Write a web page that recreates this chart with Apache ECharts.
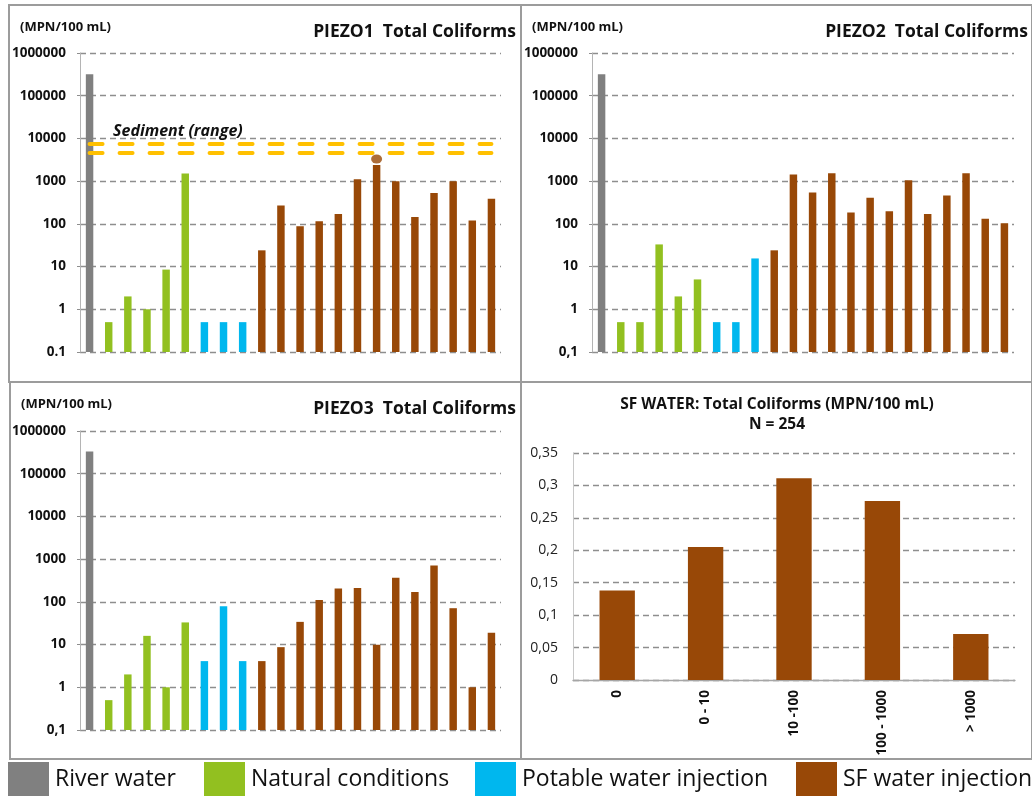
<!DOCTYPE html>
<html>
<head>
<meta charset="utf-8">
<script src="https://cdn.jsdelivr.net/npm/echarts@6/dist/echarts.min.js"></script>
<style>
  html, body { margin: 0; padding: 0; background: #ffffff; }
  #chart { width: 1032px; height: 796px; }
</style>
</head>
<body>
<div id="chart"></div>
<script>
// Total coliforms (MPN/100 mL) per sample, grouped by water origin
const piezo1River   = [320000];
const piezo1Natural = [0.5, 2, 1, 8.5, 1500];
const piezo1Potable = [0.5, 0.5, 0.5];
const piezo1SF      = [24, 270, 88, 115, 170, 1100, 2400, 1000, 145, 530, 1000, 120, 385];
const piezo1Peak    = [3300];          // marker above the 7th SF sample
const sedimentRange = [4500, 7500];    // sediment range band (MPN/100 mL)

const piezo2River   = [320000];
const piezo2Natural = [0.5, 0.5, 33, 2, 5];
const piezo2Potable = [0.5, 0.5, 15.5];
const piezo2SF      = [24, 1430, 540, 1540, 184, 407, 198, 1050, 169, 461, 1540, 131, 104];

const piezo3River   = [330000];
const piezo3Natural = [0.5, 2, 16, 1, 33];
const piezo3Potable = [4.1, 79, 4.1];
const piezo3SF      = [4.1, 8.7, 34, 110, 205, 211, 9.9, 365, 169, 708, 71, 1, 19];

// SF water: share of samples per concentration class (N = 254)
const sfClasses = ['0', '0 - 10', '10 -100', '100 - 1000', '> 1000'];
const sfShare   = [0.138, 0.205, 0.311, 0.276, 0.071];

// Tick labels
const logTicksDot   = ['0.1', '1', '10', '100', '1000', '10000', '100000', '1000000'];
const logTicksComma = ['0,1', '1', '10', '100', '1000', '10000', '100000', '1000000'];
const shareTicks    = ['0', '0,05', '0,1', '0,15', '0,2', '0,25', '0,3', '0,35'];

const GROUPS = ['River water', 'Natural conditions', 'Potable water injection', 'SF water injection'];
const COLORS = {
  'River water': '#808080',
  'Natural conditions': '#92C020',
  'Potable water injection': '#00B7EE',
  'SF water injection': '#984807'
};
const FONT = '"Open Sans", "Noto Sans", sans-serif';
const LOG_MIN = 0.1, LOG_MAX = 1000000;
const GRID_COLOR = '#8e8e8e';

// Bars on the log axis rise from the axis minimum
function renderLogBar(params, api) {
  const cat = api.value(0);
  const top = api.coord([cat, api.value(1)]);
  const base = api.coord([cat, LOG_MIN]);
  const band = api.size([1, 0], [cat, 1])[0];
  const w = band * 0.39;
  return {
    type: 'rect',
    shape: { x: top[0] - w / 2, y: top[1], width: w, height: base[1] - top[1] },
    style: api.style()
  };
}

function panelSeries(idx, groups) {
  let offset = 0;
  return groups.map(function (vals, g) {
    const data = vals.map(function (v, i) { return [offset + i, v]; });
    offset += vals.length;
    return {
      type: 'custom',
      name: GROUPS[g],
      coordinateSystem: 'cartesian2d',
      xAxisIndex: idx,
      yAxisIndex: idx,
      renderItem: renderLogBar,
      encode: { x: 0, y: 1 },
      itemStyle: { color: COLORS[GROUPS[g]] },
      data: data
    };
  });
}

function sampleCategories(groups) {
  const n = groups.reduce(function (s, a) { return s + a.length; }, 0);
  return Array.from({ length: n }, function (_, i) { return String(i + 1); });
}

function logYAxis(idx, labels) {
  return {
    type: 'log', logBase: 10, gridIndex: idx, min: LOG_MIN, max: LOG_MAX,
    axisLine: { show: true, lineStyle: { color: '#b4b4b4', width: 1 } },
    axisTick: { show: true, length: 3, lineStyle: { color: GRID_COLOR } },
    splitLine: { show: true, lineStyle: { color: GRID_COLOR, width: 1.3, type: [6, 4] } },
    axisLabel: {
      margin: 14, color: '#111', fontFamily: FONT, fontWeight: 'bold', fontSize: 13.5,
      formatter: function (v) { return labels[Math.round(Math.log10(v)) + 1]; }
    }
  };
}

function catXAxis(idx, groups) {
  return {
    type: 'category', gridIndex: idx, data: sampleCategories(groups),
    axisLine: { show: false }, axisTick: { show: false }, axisLabel: { show: false },
    splitLine: { show: false }
  };
}

const p1 = [piezo1River, piezo1Natural, piezo1Potable, piezo1SF];
const p2 = [piezo2River, piezo2Natural, piezo2Potable, piezo2SF];
const p3 = [piezo3River, piezo3Natural, piezo3Potable, piezo3SF];

const peakIndex = piezo1River.length + piezo1Natural.length + piezo1Potable.length + 6;
const lastIndex = sampleCategories(p1).length - 1;

function text(x, y, str, font, align, vAlign) {
  return {
    type: 'text', x: x, y: y, z: 10,
    style: { text: str, font: font, fill: '#111', align: align || 'left', verticalAlign: vAlign || 'middle' }
  };
}
function frame(x1, y1, x2, y2) {
  return {
    type: 'rect', z: 0, silent: true,
    shape: { x: x1, y: y1, width: x2 - x1, height: y2 - y1 },
    style: { fill: 'none', stroke: '#9c9c9c', lineWidth: 2 }
  };
}

const chart = echarts.init(document.getElementById('chart'), null, { renderer: 'canvas' });

const legendPos = [8, 204, 475, 796];

chart.setOption({
  animation: false,
  backgroundColor: '#ffffff',
  textStyle: { fontFamily: FONT },
  grid: [
    { left: 80,  top: 53,  width: 421, height: 299 },
    { left: 592, top: 53,  width: 422, height: 299 },
    { left: 80,  top: 431, width: 421, height: 299 },
    { left: 573, top: 453, width: 442, height: 227 }
  ],
  xAxis: [
    catXAxis(0, p1), catXAxis(1, p2), catXAxis(2, p3),
    {
      type: 'category', gridIndex: 3, data: sfClasses,
      axisLine: { show: true, lineStyle: { color: '#a6a6a6', width: 1.3 } },
      axisTick: { show: false },
      axisLabel: { rotate: 90, margin: 10, color: '#111', fontFamily: FONT, fontWeight: 'bold', fontSize: 13.5 }
    }
  ],
  yAxis: [
    logYAxis(0, logTicksDot), logYAxis(1, logTicksComma), logYAxis(2, logTicksComma),
    {
      type: 'value', gridIndex: 3, min: 0, max: 0.35, interval: 0.05,
      axisLine: { show: true, lineStyle: { color: '#c8c8c8', width: 1 } },
      axisTick: { show: false },
      splitLine: { show: true, lineStyle: { color: GRID_COLOR, width: 1.3, type: [6, 4] } },
      axisLabel: {
        margin: 15, color: '#222', fontFamily: FONT, fontSize: 14,
        formatter: function (v) { return shareTicks[Math.round(v / 0.05)]; }
      }
    }
  ],
  legend: GROUPS.map(function (name, i) {
    return {
      data: [name], left: legendPos[i], top: 762, padding: 0,
      icon: 'rect', itemWidth: 41, itemHeight: 34, selectedMode: false,
      textStyle: { fontFamily: FONT, fontSize: 23, color: '#111', padding: [0, 0, 0, 1] }
    };
  }),
  series: [].concat(
    panelSeries(0, p1),
    [{
      type: 'scatter', name: 'SF water injection', xAxisIndex: 0, yAxisIndex: 0,
      symbol: 'circle', symbolSize: [11, 9], itemStyle: { color: COLORS['SF water injection'] },
      data: piezo1Peak.map(function (v) { return [peakIndex, v]; }),
      markLine: {
        silent: true, symbol: ['none', 'none'], label: { show: false }, z: 5,
        lineStyle: { color: '#FFC000', width: 4, type: [13, 17], cap: 'round' },
        data: sedimentRange.map(function (v) { return [{ coord: [0, v] }, { coord: [lastIndex, v] }]; })
      }
    }],
    panelSeries(1, p2),
    panelSeries(2, p3),
    [{
      type: 'bar', name: 'SF water injection', xAxisIndex: 3, yAxisIndex: 3,
      barWidth: '40%', itemStyle: { color: COLORS['SF water injection'] },
      data: sfShare
    }]
  ),
  graphic: [
    frame(9, 5, 521, 382), frame(521, 5, 1032, 382),
    frame(10, 382, 521, 759), frame(521, 382, 1032, 759),
    text(516, 32, 'PIEZO1  Total Coliforms', 'bold 17.5px ' + FONT, 'right'),
    text(20, 27, '(MPN/100 mL)', 'bold 13px ' + FONT, 'left'),
    text(1028, 32, 'PIEZO2  Total Coliforms', 'bold 17.5px ' + FONT, 'right'),
    text(532, 27, '(MPN/100 mL)', 'bold 13px ' + FONT, 'left'),
    text(516, 409, 'PIEZO3  Total Coliforms', 'bold 17.5px ' + FONT, 'right'),
    text(21, 404, '(MPN/100 mL)', 'bold 13px ' + FONT, 'left'),
    text(777, 405, 'SF WATER: Total Coliforms (MPN/100 mL)', 'bold 15.5px ' + FONT, 'center'),
    text(777, 425, 'N = 254', 'bold 15.5px ' + FONT, 'center'),
    text(113, 131, 'Sediment (range)', 'italic bold 16px ' + FONT, 'left')
  ]
});
</script>
</body>
</html>
